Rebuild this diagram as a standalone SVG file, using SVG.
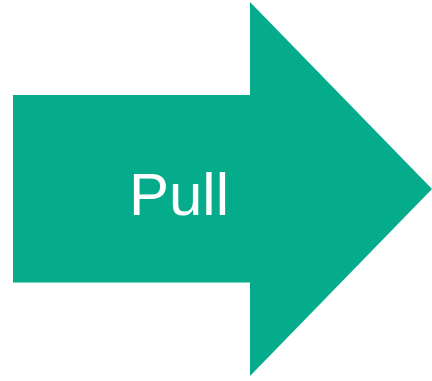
<svg xmlns="http://www.w3.org/2000/svg" width="432" height="381" viewBox="0 0 432 381">
<style>
.shape{fill:#05AC8C}
.label{font-family:"Liberation Sans",Arial,sans-serif;font-size:60px;fill:#ffffff}
</style>
<rect width="432" height="381" fill="#ffffff"/>
<g id="pull-arrow">
<polygon class="shape" points="13,95 250,95 250,2 432,189 250,376 250,282.5 13,282.5"/>
<text class="label" x="179" y="215" text-anchor="middle">Pull</text>
</g>
</svg>
